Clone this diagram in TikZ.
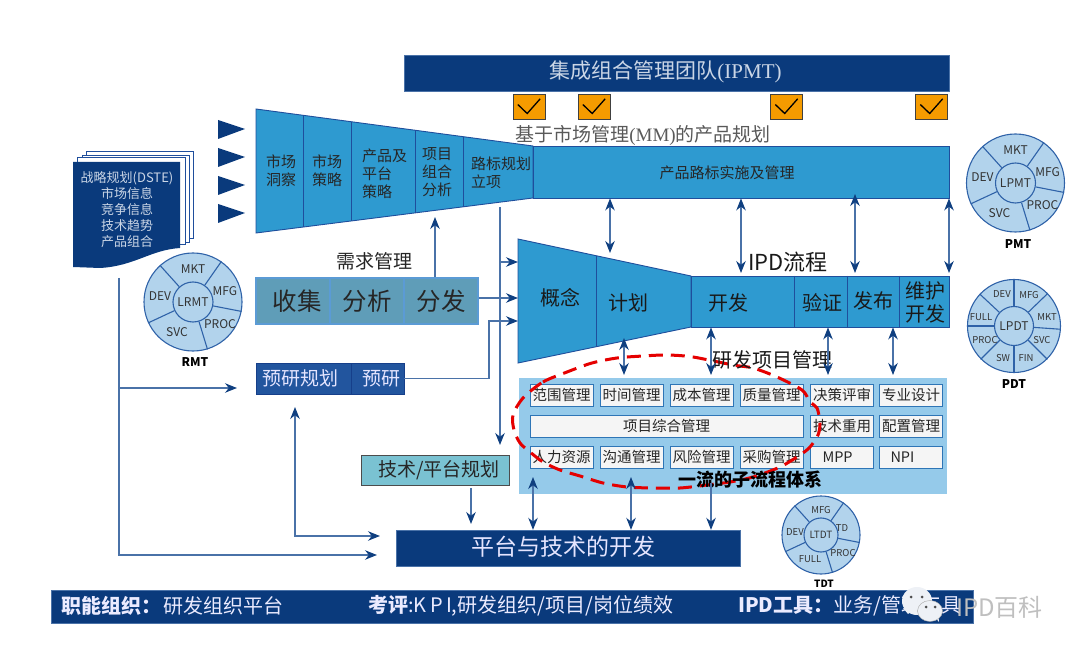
\documentclass[tikz,border=0pt]{standalone}
\usepackage{fontspec}
\setmainfont{Noto Sans CJK SC}
\newfontfamily\latinserif{Liberation Serif}
\usetikzlibrary{shapes,arrows,arrows.meta}
\definecolor{navy}{HTML}{0A3A7C}
\definecolor{stageblue}{HTML}{2E9AD0}
\definecolor{stageline}{HTML}{1F4E9C}
\definecolor{linecol}{HTML}{4A72A8}
\definecolor{tipcol}{HTML}{0F3F80}
\definecolor{paletxt}{HTML}{CBD6E6}
\definecolor{ringfill}{HTML}{B2D3EC}
\definecolor{ringline}{HTML}{2F62A8}
\definecolor{needfill}{HTML}{5F9DB8}
\definecolor{needline}{HTML}{5B9BD5}
\definecolor{prefill}{HTML}{22559E}
\definecolor{preline}{HTML}{163F8A}
\definecolor{panelfill}{HTML}{95CAEA}
\definecolor{cellline}{HTML}{2E75B6}
\definecolor{cellfill}{HTML}{F5F5F5}
\definecolor{techfill}{HTML}{7AC2D2}
\definecolor{chkfill}{HTML}{F59B00}
\definecolor{markcol}{HTML}{EEF1F6}
\tikzset{>={Stealth[color=tipcol,length=12pt,width=9.5pt]}}
\tikzstyle{line} = [draw=linecol, line width=1.1pt, ->]
\tikzstyle{biline} = [draw=linecol, line width=1.1pt, <->]
\tikzstyle{stage} = [draw=stageline, line width=0.9pt, fill=stageblue]
\tikzstyle{stage_txt} = [inner sep=0pt, text=black!85, font=\fontsize{15}{18}\selectfont]
\tikzstyle{ipd_txt} = [inner sep=0pt, text=black!90, align=center, font=\fontsize{20}{23}\selectfont]
\tikzstyle{navybar} = [rectangle, draw=linecol, fill=navy, inner sep=0pt, text=paletxt]
\tikzstyle{chkbox} = [rectangle, draw=black!75, fill=chkfill, minimum width=32pt, minimum height=25pt, inner sep=0pt]
\tikzstyle{need} = [rectangle, draw=needline, line width=1.2pt, fill=needfill, minimum width=74pt, minimum height=46pt, inner sep=0pt, text=black!85, node distance=74pt, font=\fontsize{24.5}{26}\selectfont]
\tikzstyle{pre} = [rectangle, draw=preline, fill=prefill, minimum height=31pt, inner sep=0pt, text=white!90!blue, font=\fontsize{19}{22}\selectfont]
\tikzstyle{cell} = [rectangle, draw=cellline, line width=1pt, fill=cellfill, minimum width=63pt, minimum height=22pt, inner sep=0pt, text=black!85, node distance=70pt, font=\fontsize{14.5}{16}\selectfont]
\tikzstyle{ring} = [circle, draw=ringline, line width=1.1pt, fill=ringfill, inner sep=0pt]
\tikzstyle{ring_in} = [ring, text=black!80, font=\fontsize{12}{14}\selectfont]
\tikzstyle{ring_txt} = [inner sep=0pt, text=black!80, font=\fontsize{12}{14}\selectfont]
\tikzstyle{ring_sm} = [inner sep=0pt, text=black!80, font=\fontsize{9.5}{11}\selectfont]
\tikzstyle{ring_name} = [inner sep=0pt, text=black, font=\bfseries\fontsize{12}{14}\selectfont]
\tikzstyle{spoke} = [draw=ringline, line width=1.1pt]
\tikzstyle{foot_txt} = [anchor=west, inner sep=0pt, text=white!92!blue, font=\fontsize{20}{22}\selectfont]
\tikzstyle{bubble} = [ellipse, fill=markcol, inner sep=0pt]
\tikzstyle{eye} = [circle, fill=black!70, minimum size=3pt, inner sep=0pt]
\begin{document}
\begin{tikzpicture}[x=1pt,y=-1pt]
\useasboundingbox (0,0) rectangle (1080,655);

\node [navybar, minimum width=545pt, minimum height=36pt] (ipmt) at (676.5,73) {};
\node [inner sep=0pt, text=paletxt, font=\fontsize{21}{24}\selectfont] (ipmt_txt) at (665.5,72) {集成组合管理团队{\latinserif (IPMT)}};

\node [chkbox] (chk1) at (529,106.5) {};
\node [chkbox] (chk2) at (594,106.5) {};
\node [chkbox] (chk3) at (786.5,106.5) {};
\node [chkbox] (chk4) at (931.5,106.5) {};
\foreach \c in {chk1,chk2,chk3,chk4}
  \draw [black, line width=1.3pt] (\c.north west) ++(5,10.7) -- ++(9.4,9) -- ++(13,-14.7);

\node [inner sep=0pt, text=black!65, font=\fontsize{19}{21}\selectfont] (mm_txt) at (643,135) {基于市场管理{\latinserif (MM)}的产品规划};

\fill [navy] (218,120) -- (245,129) -- (218,139) -- cycle;
\fill [navy] (218,148) -- (245,157) -- (218,167) -- cycle;
\fill [navy] (218,176) -- (245,185) -- (218,195) -- cycle;
\fill [navy] (218,204) -- (245,213) -- (218,223) -- cycle;

\draw [stage] (256,109) -- (533,146) -- (533,198) -- (256,233) -- cycle;
\draw [stage] (303,115.3) -- (303,227.1);
\draw [stage] (351,121.7) -- (351,221);
\draw [stage] (415,130.2) -- (415,212.9);
\draw [stage] (463,136.7) -- (463,206.8);
\node [stage_txt, align=center] (insight) at (281,170.5) {市场\\洞察};
\node [stage_txt, align=center] (mkt_plan) at (327,170.5) {市场\\策略};
\node [stage_txt, align=left] (prod_plan) at (384.5,174) {产品及\\平台\\策略};
\node [stage_txt, align=center] (portfolio) at (437,172) {项目\\组合\\分析};
\node [stage_txt, align=left] (roadmap) at (501,173) {路标规划\\立项};

\node [stage, rectangle, minimum width=416pt, minimum height=52pt, inner sep=0pt] (road_bar) at (741,172) {};
\node [inner sep=0pt, text=black!85, font=\fontsize{15}{18}\selectfont] (road_txt) at (727,173) {产品路标实施及管理};

\draw [draw=stageline, fill=white] (86,151) rectangle (193,238);
\draw [draw=stageline, fill=white] (82,155) rectangle (189,242);
\draw [draw=stageline, fill=white] (77,157) rectangle (185,244);
\fill [navy] (73,162) -- (180,162) -- (180,248) .. controls (150,250) and (135,266) .. (100,268) -- (73,267) -- cycle;
\node [inner sep=0pt, align=center, text=paletxt, font=\fontsize{13}{16}\selectfont] (dste) at (127,210) {战略规划(DSTE)\\市场信息\\竞争信息\\技术趋势\\产品组合};

\node [ring, minimum size=98pt] (rmt) at (193,302) {};
\node [ring_in, minimum size=40pt] (lrmt) at (rmt) {LRMT};
\foreach \a in {55,-11,-73,205,132} \draw [spoke] (lrmt.\a) -- (rmt.\a);
\node [ring_txt, above of=lrmt, node distance=33pt] (rmt_mkt) {MKT};
\node [ring_txt, right of=lrmt, node distance=32pt, yshift=11pt] (rmt_mfg) {MFG};
\node [ring_txt, right of=lrmt, node distance=27pt, yshift=-22pt] (rmt_proc) {PROC};
\node [ring_txt, below of=lrmt, node distance=30pt, xshift=-16pt] (rmt_svc) {SVC};
\node [ring_txt, left of=lrmt, node distance=33pt, yshift=6pt] (rmt_dev) {DEV};
\node [ring_name] (rmt_name) at (195,362) {RMT};

\node [ring, minimum size=98pt] (pmt) at (1015.5,183) {};
\node [ring_in, minimum size=40pt] (lpmt) at (pmt) {LPMT};
\foreach \a in {55,-11,-73,205,132} \draw [spoke] (lpmt.\a) -- (pmt.\a);
\node [ring_txt, above of=lpmt, node distance=33pt] (pmt_mkt) {MKT};
\node [ring_txt, right of=lpmt, node distance=32pt, yshift=11pt] (pmt_mfg) {MFG};
\node [ring_txt, right of=lpmt, node distance=27pt, yshift=-22pt] (pmt_proc) {PROC};
\node [ring_txt, below of=lpmt, node distance=30pt, xshift=-16pt] (pmt_svc) {SVC};
\node [ring_txt, left of=lpmt, node distance=33pt, yshift=6pt] (pmt_dev) {DEV};
\node [ring_name] (pmt_name) at (1018,244) {PMT};

\node [ring, minimum size=93pt] (pdt) at (1014,326) {};
\node [ring_in, minimum size=39pt] (lpdt) at (pdt) {LPDT};
\foreach \a in {90,44,-4,-45,-90,-135,180,137} \draw [spoke] (lpdt.\a) -- (pdt.\a);
\node [ring_sm, above of=lpdt, node distance=32pt, xshift=-12pt] (pdt_dev) {DEV};
\node [ring_sm, above of=lpdt, node distance=31pt, xshift=15pt] (pdt_mfg) {MFG};
\node [ring_sm, right of=lpdt, node distance=33pt, yshift=9pt] (pdt_mkt) {MKT};
\node [ring_sm, right of=lpdt, node distance=28pt, yshift=-14pt] (pdt_svc) {SVC};
\node [ring_sm, below of=lpdt, node distance=32pt, xshift=12pt] (pdt_fin) {FIN};
\node [ring_sm, below of=lpdt, node distance=32pt, xshift=-11pt] (pdt_sw) {SW};
\node [ring_sm, left of=lpdt, node distance=29pt, yshift=-14pt] (pdt_proc) {PROC};
\node [ring_sm, left of=lpdt, node distance=33pt, yshift=9pt] (pdt_full) {FULL};
\node [ring_name] (pdt_name) at (1014,384) {PDT};

\node [need] (shouji) at (293,301) {};
\node [need, right of=shouji] (fenxi) {分析};
\node [need, right of=fenxi] (fenfa) {分发};
\node [inner sep=0pt, text=black!85, font=\fontsize{24.5}{26}\selectfont] (shouji_txt) at (297,301) {收集};
\node [inner sep=0pt, text=black!85, font=\fontsize{19}{22}\selectfont] (need_txt) at (374,261) {需求管理};

\node [pre, minimum width=95pt] (yuyan_plan) at (303.5,378.5) {预研规划\hspace*{7pt}};
\node [pre, minimum width=53pt, right of=yuyan_plan, node distance=74pt] (yuyan) {\hspace*{7pt}预研};

\draw [stage] (518,239) -- (691,276) -- (691,327) -- (518,363) -- cycle;
\draw [stage] (596,255.7) -- (596,346.8);
\node [stage, rectangle, minimum width=258pt, minimum height=51pt, inner sep=0pt] (ipd_bar) at (820,301.5) {};
\draw [stage] (794,276) -- (794,327);
\draw [stage] (847,276) -- (847,327);
\draw [stage] (899,276) -- (899,327);
\node [ipd_txt] (gainian) at (560,298) {概念};
\node [ipd_txt] (jihua) at (628.5,303) {计划};
\node [ipd_txt] (kaifa) at (728.5,303) {开发};
\node [ipd_txt] (yanzheng) at (822,303) {验证};
\node [ipd_txt] (fabu) at (873,301) {发布};
\node [ipd_txt] (weihu) at (925,302.5) {维护\\开发};
\node [inner sep=0pt, text=black!90, font=\fontsize{22}{24}\selectfont] (ipd_name) at (788,262) {IPD流程};

\node [rectangle, fill=panelfill, minimum width=428pt, minimum height=116pt, inner sep=0pt] (panel) at (733,436) {};
\node [cell] (fanwei) at (561.5,395) {范围管理};
\node [cell, right of=fanwei] (shijian) {时间管理};
\node [cell, right of=shijian] (chengben) {成本管理};
\node [cell, right of=chengben] (zhiliang) {质量管理};
\node [cell, right of=zhiliang, node distance=70.5pt] (juece) {决策评审};
\node [cell, right of=juece, node distance=69pt] (zhuanye) {专业设计};
\node [cell, minimum width=273pt] (zonghe) at (666.5,426) {项目综合管理};
\node [cell, below of=juece, node distance=31pt] (chongyong) {技术重用};
\node [cell, below of=zhuanye, node distance=31pt] (peizhi) {配置管理};
\node [cell] (renli) at (561.5,457) {人力资源};
\node [cell, right of=renli] (goutong) {沟通管理};
\node [cell, right of=goutong] (fengxian) {风险管理};
\node [cell, right of=fengxian] (caigou) {采购管理};
\node [cell, below of=chongyong, node distance=31pt, text width=63pt, align=left] (mpp) {\hspace*{12pt}MPP};
\node [cell, below of=peizhi, node distance=31pt, text width=63pt, align=left] (npi) {\hspace*{11pt}NPI};

\draw [red!90!black, line width=3pt, dash pattern=on 14pt off 8pt] plot [smooth cycle] coordinates {(523,398) (543,382) (567,372) (592,363) (617,358) (643,356) (667,355) (693,357) (733,365) (753,368) (777,377) (802,390) (810,402) (817,408) (820,423) (818,435) (810,447) (800,455) (780,467) (753,477) (730,482) (707,485) (680,488) (653,488) (627,487) (603,483) (580,476) (560,470) (543,462) (530,452) (520,443) (514,430) (513,415)};

\node [inner sep=0pt, text=black!90, font=\fontsize{20}{22}\selectfont] (rd_name) at (772,360) {研发项目管理};
\node [inner sep=0pt, text=black, font=\bfseries\fontsize{18}{20}\selectfont] (sub_name) at (750,480) {一流的子流程体系};

\node [rectangle, draw=black!70, line width=1pt, fill=techfill, minimum width=148pt, minimum height=30pt, inner sep=0pt, text=black!85, font=\fontsize{19}{22}\selectfont] (tech) at (435,470) {\hspace*{8pt}技术/平台规划};

\node [navybar, minimum width=344pt, minimum height=36pt] (platform) at (568,548) {};
\node [inner sep=0pt, text=white!90!blue, font=\fontsize{23}{26}\selectfont] (platform_txt) at (563,547) {平台与技术的开发};

\node [ring, minimum size=78pt] (tdt) at (821,535) {};
\node [ring_in, minimum size=34pt, font=\fontsize{10}{12}\selectfont] (ltdt) at (tdt) {LTDT};
\foreach \a in {55,-11,-73,205,132} \draw [spoke] (ltdt.\a) -- (tdt.\a);
\node [ring_sm, above of=ltdt, node distance=25pt] (tdt_mfg) {MFG};
\node [ring_sm, right of=ltdt, node distance=21pt, yshift=7pt] (tdt_td) {TD};
\node [ring_sm, right of=ltdt, node distance=22pt, yshift=-18pt] (tdt_proc) {PROC};
\node [ring_sm, below of=ltdt, node distance=24pt, xshift=-11pt] (tdt_full) {FULL};
\node [ring_sm, left of=ltdt, node distance=26pt, yshift=3pt] (tdt_dev) {DEV};
\node [ring_name, font=\bfseries\fontsize{10}{12}\selectfont] (tdt_name) at (824,584) {TDT};

\node [navybar, minimum width=922pt, minimum height=33pt] (foot) at (512,606.5) {};
\node [foot_txt] (foot_org) at (61,606) {\textbf{职能组织：}\hspace{2pt}研发组织平台};
\node [foot_txt] (foot_kpi) at (368,606) {\textbf{考评}:K\,P\,I,研发组织/项目/岗位绩效};
\node [foot_txt] (foot_tool) at (738,606) {\textbf{IPD工具：}业务/管理工具};

\node [inner sep=0pt, anchor=east, text=black!25, font=\fontsize{24}{26}\selectfont] (mark_txt) at (1043,607) {IPD百科};
\fill [markcol] (903,608) -- (908,614) -- (913,610) -- cycle;
\node [bubble, minimum width=30pt, minimum height=28pt] (mark_big) at (917,601) {};
\node [eye] (mark_eye1) at (911,597) {};
\node [eye] (mark_eye2) at (922,597) {};
\fill [markcol] (934,616) -- (939,622) -- (938,612) -- cycle;
\node [bubble, draw=black!35, minimum width=25pt, minimum height=21pt] (mark_small) at (930,611) {};
\node [eye] (mark_eye3) at (926,607) {};
\node [eye] (mark_eye4) at (935,607) {};

\coordinate (road_in) at (435,217);
\coordinate (plan_top) at (500,207);
\coordinate (plan_bot) at (500,445);
\coordinate (ipd_in1) at (518,262);
\coordinate (ipd_in2) at (518,298);
\coordinate (ipd_in3) at (518,321);
\coordinate (pre_bend) at (489,321);
\coordinate (left_top) at (119,278);
\coordinate (pre_in) at (237,388);
\coordinate (plat_in1) at (377,555);
\coordinate (pre_up) at (295,407);
\coordinate (plat_in2) at (380,536);
\coordinate (tech_out) at (471,488);
\coordinate (plat_top) at (471,524);

\path [line] (fenfa.north -| road_in) -- (road_in);
\path [line] (plan_top) -- (plan_bot);
\path [line] (ipd_in1 -| plan_top) -- (ipd_in1);
\path [line] (fenfa.east |- ipd_in2) -- (ipd_in2);
\path [line] (yuyan.east) -- (pre_bend |- yuyan.east) -- (pre_bend) -- (ipd_in3);
\path [line] (left_top) |- (plat_in1);
\path [line] (left_top |- pre_in) -- (pre_in);
\path [biline] (pre_up) |- (plat_in2);
\path [line] (tech_out) -- (plat_top);

\coordinate (road_a) at (610,253);
\coordinate (road_b) at (741,273);
\coordinate (road_c) at (855,273);
\coordinate (road_d) at (949,273);
\coordinate (road_c_up) at (855,194);
\path [biline] (road_bar.south -| road_a) -- (road_a);
\path [biline] (road_bar.south -| road_b) -- (road_b);
\path [biline] (road_c_up) -- (road_c);
\path [biline] (road_bar.south -| road_d) -- (road_d);

\coordinate (plan_up) at (624,338);
\coordinate (rd_a) at (624,375);
\coordinate (rd_b) at (711,375);
\coordinate (rd_c) at (828,375);
\coordinate (rd_d) at (893,375);
\path [biline] (plan_up) -- (rd_a);
\path [biline] (ipd_bar.south -| rd_b) -- (rd_b);
\path [biline] (ipd_bar.south -| rd_c) -- (rd_c);
\path [biline] (ipd_bar.south -| rd_d) -- (rd_d);

\coordinate (sub_a) at (533,477);
\coordinate (sub_b) at (631,477);
\coordinate (sub_c) at (711,483);
\path [biline] (sub_a) -- (platform.north -| sub_a);
\path [biline] (sub_b) -- (platform.north -| sub_b);
\path [line] (sub_c) -- (platform.north -| sub_c);

\end{tikzpicture}
\end{document}
